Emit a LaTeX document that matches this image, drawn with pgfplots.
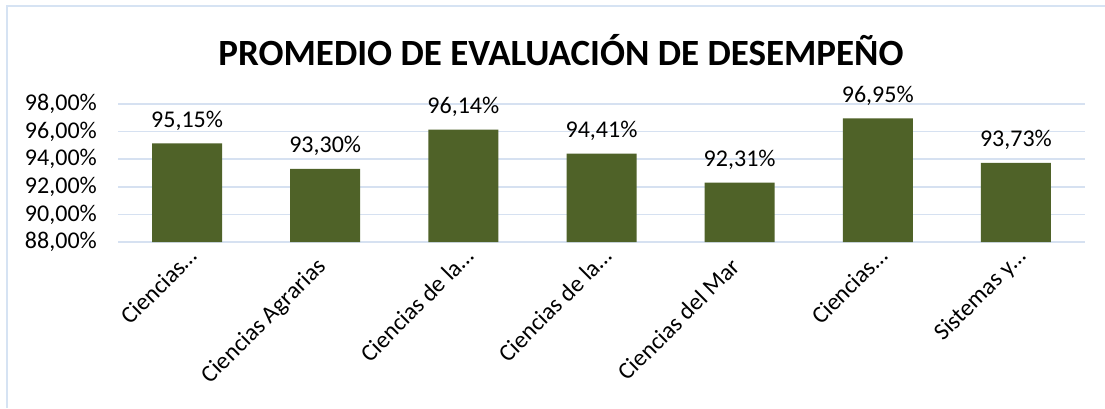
\documentclass[border=0pt]{standalone}
\usepackage{pgfplots}
\pgfplotsset{compat=1.18}
\usepackage{fontspec}
\setmainfont{Carlito}
\definecolor{barc}{HTML}{4F6228}
\definecolor{gridc}{HTML}{D6E1F1}
\definecolor{framec}{HTML}{D6E3F3}
\newcommand{\sh}[1]{#1\hspace*{-14pt}}
\begin{document}
\begin{tikzpicture}[x=1pt,y=1pt]
\useasboundingbox (0,0) rectangle (1105,408);
\fill[white] (0,0) rectangle (1105,408);
\draw[framec, line width=2pt] (7,0) -- (7,402) -- (1105,402);
\node[font=\fontsize{37}{40}\selectfont\bfseries] at (561,358) {PROMEDIO DE EVALUACIÓN DE DESEMPEÑO};
\begin{axis}[
  at={(118pt,166pt)}, anchor=south west,
  scale only axis, width=967pt, height=138pt,
  xmin=-0.5, xmax=6.5, ymin=88, ymax=98,
  ytick={88,90,92,94,96,98},
  yticklabels={{88,00\%},{90,00\%},{92,00\%},{94,00\%},{96,00\%},{98,00\%}},
  xtick={0,...,6},
  xticklabels={\sh{Ciencias\ldots},Ciencias Agrarias,\sh{Ciencias de la\ldots},\sh{Ciencias de la\ldots},Ciencias del Mar,\sh{Ciencias\ldots},\sh{Sistemas y\ldots}},
  xticklabel style={xshift=-10pt, yshift=-14pt, rotate=45, anchor=north east, font=\fontsize{24}{26}\selectfont, inner sep=0pt},
  yticklabel style={font=\fontsize{24}{26}\selectfont, inner sep=0pt, xshift=-21pt},
  major tick length=0pt,
  axis line style={draw=none},
  ymajorgrids, grid style={gridc, line width=1.5pt},
  clip=false,
  /pgf/number format/assume math mode=true,
  nodes near coords={\pgfmathprintnumber[fixed,fixed zerofill,precision=2,use comma]{\pgfplotspointmeta}\%},
  nodes near coords style={font=\fontsize{24}{26}\selectfont, inner sep=0pt, anchor=base, yshift=16pt},
]
\addplot[ybar, bar width=70pt, fill=barc, draw=none, bar shift=0pt] coordinates {
(0,95.15) (1,93.30) (2,96.14) (3,94.41) (4,92.31) (5,96.95) (6,93.73)};
\end{axis}
\end{tikzpicture}
\end{document}
